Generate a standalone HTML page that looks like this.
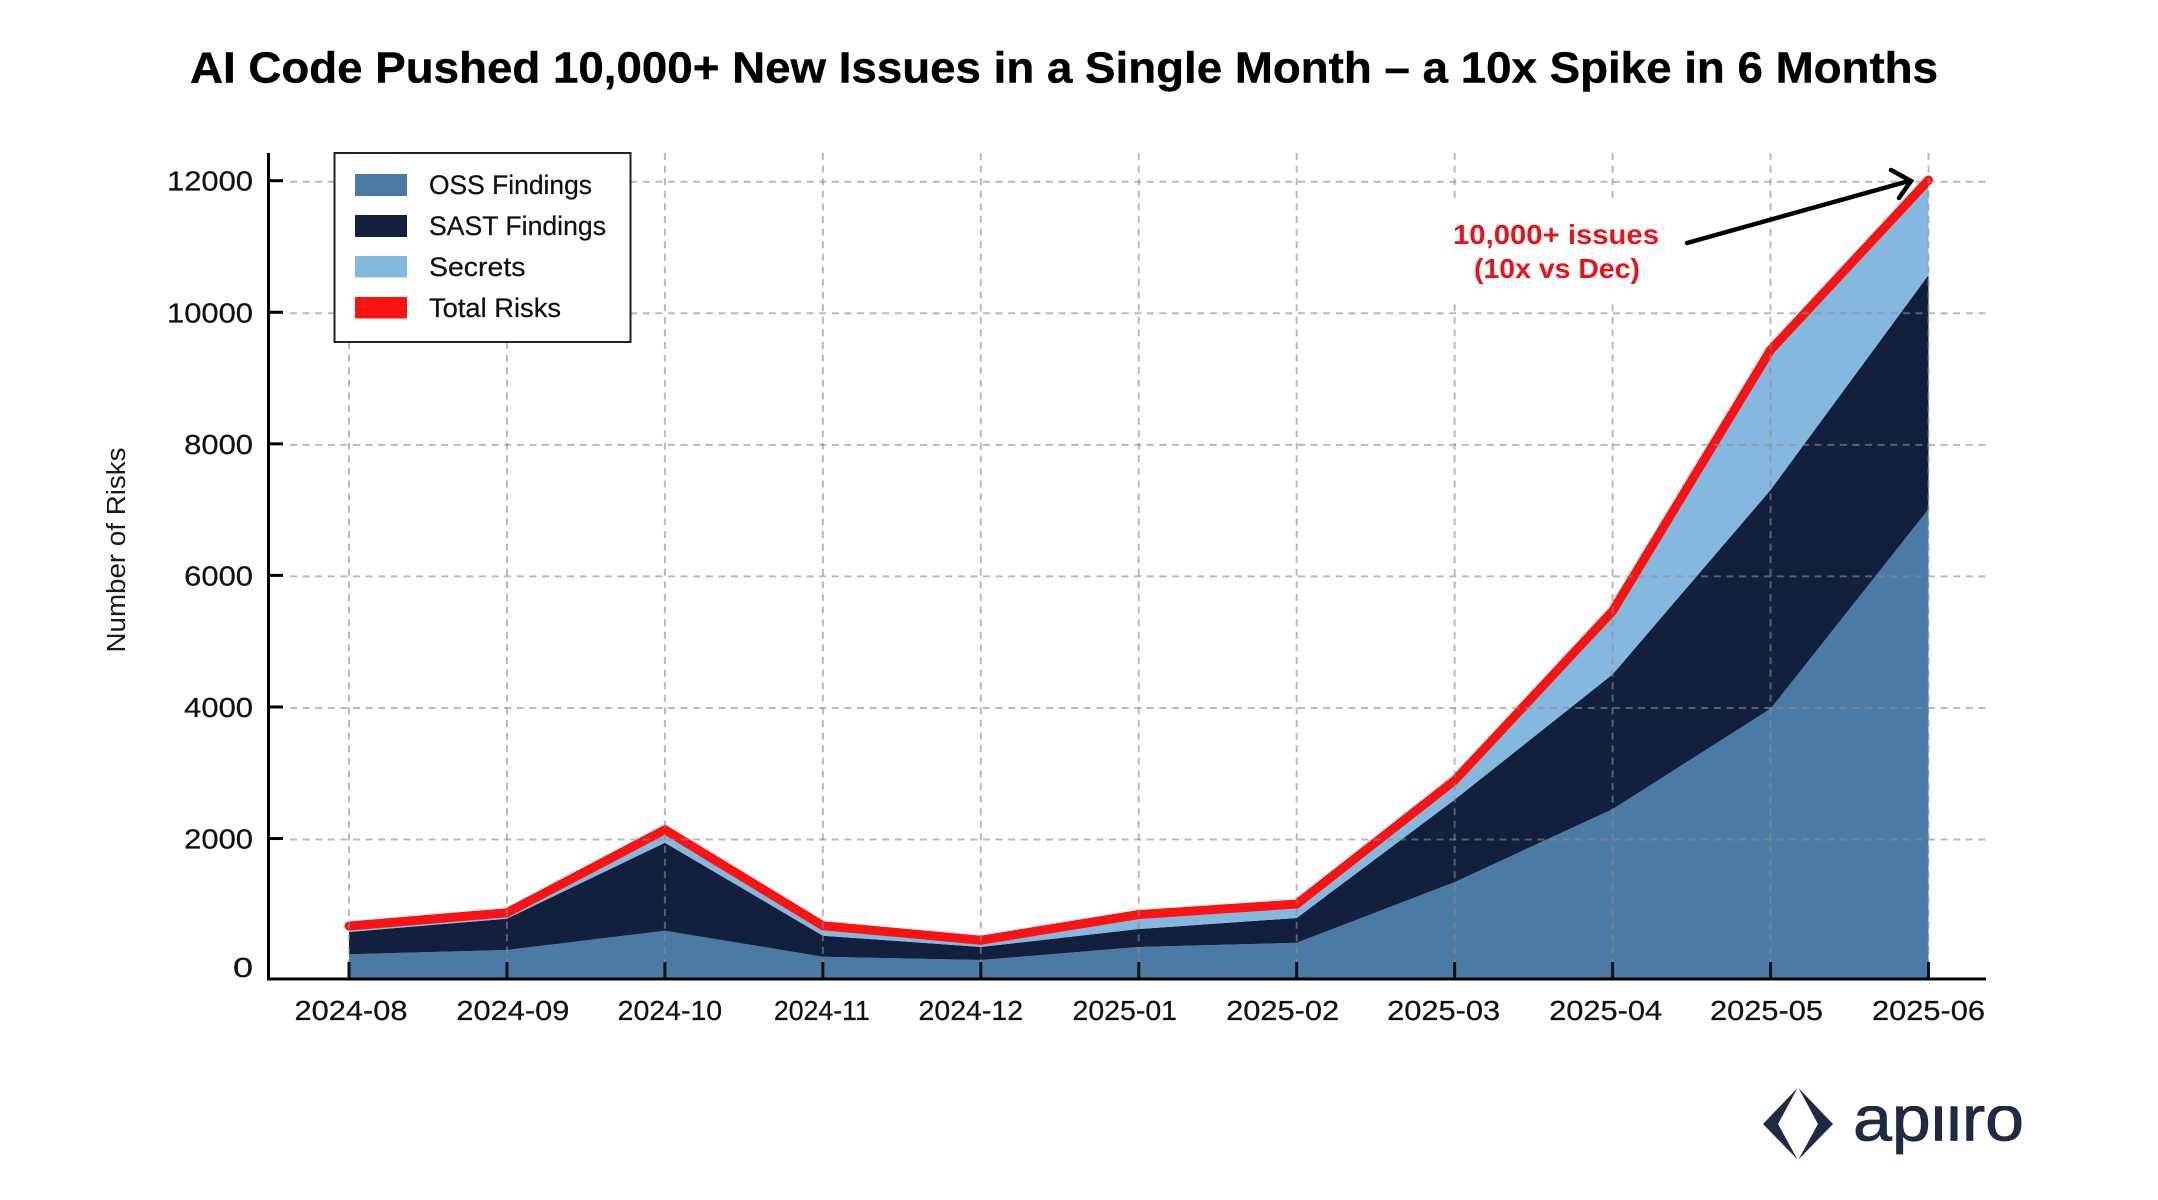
<!DOCTYPE html>
<html lang="en">
<head>
<meta charset="utf-8">
<title>AI Code Pushed 10,000+ New Issues in a Single Month</title>
<style>
  html, body { margin: 0; padding: 0; background: #fff; }
  svg { display: block; font-family: "Liberation Sans", sans-serif; }
</style>
</head>
<body>
<svg id="chart" xmlns="http://www.w3.org/2000/svg" width="2158" height="1200" viewBox="0 0 2158 1200">
  <defs>
    <clipPath id="logo-clip"><rect x="1840" y="1106" width="200" height="70"/></clipPath>
  </defs>
  <rect x="0" y="0" width="2158" height="1200" fill="#ffffff"/>
  <text x="190" y="82.5" font-size="43.5" font-weight="700" fill="#000" stroke="#000" stroke-width="0.4" textLength="1748" lengthAdjust="spacingAndGlyphs">AI Code Pushed 10,000+ New Issues in a Single Month – a 10x Spike in 6 Months</text>
  <g id="areas"></g>
  <g id="total"></g>
  <g id="grid"></g>
  <g id="axes"></g>
  <text transform="translate(125,550) rotate(-90)" text-anchor="middle" font-size="25.5" fill="#1a1a1a" textLength="205" lengthAdjust="spacingAndGlyphs">Number of Risks</text>

  <g>
    <rect x="334.5" y="153" width="296" height="189" fill="#fff" stroke="#222" stroke-width="2"/>
    <rect x="355" y="174" width="52" height="22" fill="#4a7ba6"/>
    <text x="429" y="194" font-size="27" fill="#111" stroke="#111" stroke-width="0.25" textLength="163" lengthAdjust="spacingAndGlyphs">OSS Findings</text>
    <rect x="355" y="215" width="52" height="22" fill="#121f3d"/>
    <text x="429" y="235" font-size="27" fill="#111" stroke="#111" stroke-width="0.25" textLength="177" lengthAdjust="spacingAndGlyphs">SAST Findings</text>
    <rect x="355" y="256" width="52" height="21.5" fill="#85b8de"/>
    <text x="429" y="276" font-size="27" fill="#111" stroke="#111" stroke-width="0.25" textLength="96.5" lengthAdjust="spacingAndGlyphs">Secrets</text>
    <rect x="355" y="297" width="52" height="21.5" fill="#fb1212"/>
    <text x="429" y="317" font-size="27" fill="#111" stroke="#111" stroke-width="0.25" textLength="132" lengthAdjust="spacingAndGlyphs">Total Risks</text>
  </g>

  <g>
    <rect x="1440" y="202" width="235" height="98" fill="#fff"/>
    <text x="1556" y="244" text-anchor="middle" font-size="28" font-weight="700" fill="#e8141c" textLength="206" lengthAdjust="spacingAndGlyphs">10,000+ issues</text>
    <text x="1557" y="278" text-anchor="middle" font-size="28" font-weight="700" fill="#e8141c" textLength="166" lengthAdjust="spacingAndGlyphs">(10x vs Dec)</text>
    <path d="M1687 243 L1909 181 M1891 170 L1911 181 L1899 198" fill="none" stroke="#000" stroke-width="4.5" stroke-linecap="round" stroke-linejoin="miter"/>
  </g>

  <g>
    <path d="M1797.5 1088 L1763 1124 L1797.5 1159.5 L1778 1124 Z" fill="#1f2a44"/>
    <path d="M1798.5 1088 L1833 1124 L1798.5 1159.5 L1818 1124 Z" fill="#1f2a44"/>
    <text x="1853" y="1140.5" font-size="64" fill="#1f2a44" stroke="#1f2a44" stroke-width="0.8" clip-path="url(#logo-clip)" textLength="171" lengthAdjust="spacingAndGlyphs">apiiro</text>
  </g>
</svg>

<script>
const months = ["2024-08","2024-09","2024-10","2024-11","2024-12","2025-01","2025-02","2025-03","2025-04","2025-05","2025-06"];
const ossFindings = [255,320,614,219,168,366,430,1353,2463,3987,7023];
const sastFindings = [340,477,1338,319,198,274,377,1254,2047,3326,3559];
const secrets = [90,91,198,152,117,230,213,293,964,2129,1444];
const totalRisks = [685,888,2150,690,470,860,1020,2900,5474,9442,12026];
const yTickValues = [0,2000,4000,6000,8000,10000,12000];

(function render() {
  const NS = 'http://www.w3.org/2000/svg';
  const plotBottom = 979, plotTop = 153, plotRight = 1986, axisX = 268.5;
  const xOf = function (i) { return 349 + (1928.5 - 349) * i / (months.length - 1); };
  const yOf = function (v) { return 971.1 - v * (971.1 - 181.7) / 12000; };
  // Layout nudge: the reference's month labels sit slightly off their ticks.
  const labelNudge = [2, 6, 5, -1, -10, -14, -14, -11, -7, -4, 0];

  function mk(parentId, tag, attrs, text) {
    const el = document.createElementNS(NS, tag);
    Object.keys(attrs).forEach(function (k) { el.setAttribute(k, attrs[k]); });
    if (text !== undefined) el.textContent = text;
    document.getElementById(parentId).appendChild(el);
    return el;
  }

  const seriesDefs = [
    { name: 'area-oss-findings', vals: ossFindings, color: '#4a7ba6' },
    { name: 'area-sast-findings', vals: sastFindings, color: '#121f3d' },
    { name: 'area-secrets', vals: secrets, color: '#85b8de' }
  ];
  let base = months.map(function () { return 0; });
  seriesDefs.forEach(function (s, idx) {
    const top = base.map(function (b, i) { return b + s.vals[i]; });
    const upper = top.map(function (v, i) { return xOf(i).toFixed(1) + ',' + yOf(v).toFixed(1); });
    const lower = base.map(function (v, i) {
      const y = idx === 0 ? plotBottom : yOf(v);
      return xOf(i).toFixed(1) + ',' + y.toFixed(1);
    }).reverse();
    const poly = mk('areas', 'polygon', { points: upper.concat(lower).join(' '), fill: s.color });
    
    
    base = top;
  });

  const totalPts = totalRisks.map(function (v, i) { return xOf(i).toFixed(1) + ',' + yOf(v).toFixed(1); }).join(' ');
  const totalLine = mk('total', 'polyline', {
    points: totalPts, fill: 'none', stroke: '#fb1212', 'stroke-width': 9,
    'stroke-linejoin': 'miter', 'stroke-linecap': 'round'
  });
  
  

  yTickValues.forEach(function (v) {
    const y = yOf(v);
    if (v !== 0) {
      const g = mk('grid', 'line', {
        x1: 290, x2: plotRight, y1: y, y2: y,
        stroke: 'rgba(140,140,140,0.6)', 'stroke-width': 2, 'stroke-dasharray': '7 5.6'
      });
      
      
      const t = mk('axes', 'line', { x1: axisX, x2: 283, y1: y - 1, y2: y - 1, stroke: '#000', 'stroke-width': 3 });
      
      
    }
    const s = String(v);
    const lab = mk('axes', 'text', {
      x: 253, y: v === 0 ? y + 6 : y + 9, 'text-anchor': 'end', 'font-size': 27.5, fill: '#111',
      stroke: '#111', 'stroke-width': 0.25,
      textLength: s.length === 1 ? 20 : 17.2 * s.length, lengthAdjust: 'spacingAndGlyphs'
    }, s);
    
    
  });

  months.forEach(function (m, i) {
    const x = xOf(i);
    const g = mk('grid', 'line', {
      x1: x, x2: x, y1: plotTop, y2: 962,
      stroke: 'rgba(140,140,140,0.6)', 'stroke-width': 2, 'stroke-dasharray': '7 5.6'
    });
    
    
    const t = mk('axes', 'line', { x1: x, x2: x, y1: 962, y2: plotBottom, stroke: '#111', 'stroke-width': 3 });
    
    
    const ones = m.split('1').length - 1;
    const lab = mk('axes', 'text', {
      x: x + labelNudge[i], y: 1020, 'text-anchor': 'middle', 'font-size': 27.5, fill: '#111',
      stroke: '#111', 'stroke-width': 0.25,
      textLength: 113 - 8.5 * ones, lengthAdjust: 'spacingAndGlyphs'
    }, m);
    
    
  });

  const yAxis = mk('axes', 'line', { x1: axisX, x2: axisX, y1: plotTop, y2: plotBottom + 1.5, stroke: '#000', 'stroke-width': 3 });
  
  
  const xAxis = mk('axes', 'line', { x1: axisX - 1.5, x2: plotRight, y1: plotBottom, y2: plotBottom, stroke: '#000', 'stroke-width': 3 });
  
  
})();
</script>
</body>
</html>
